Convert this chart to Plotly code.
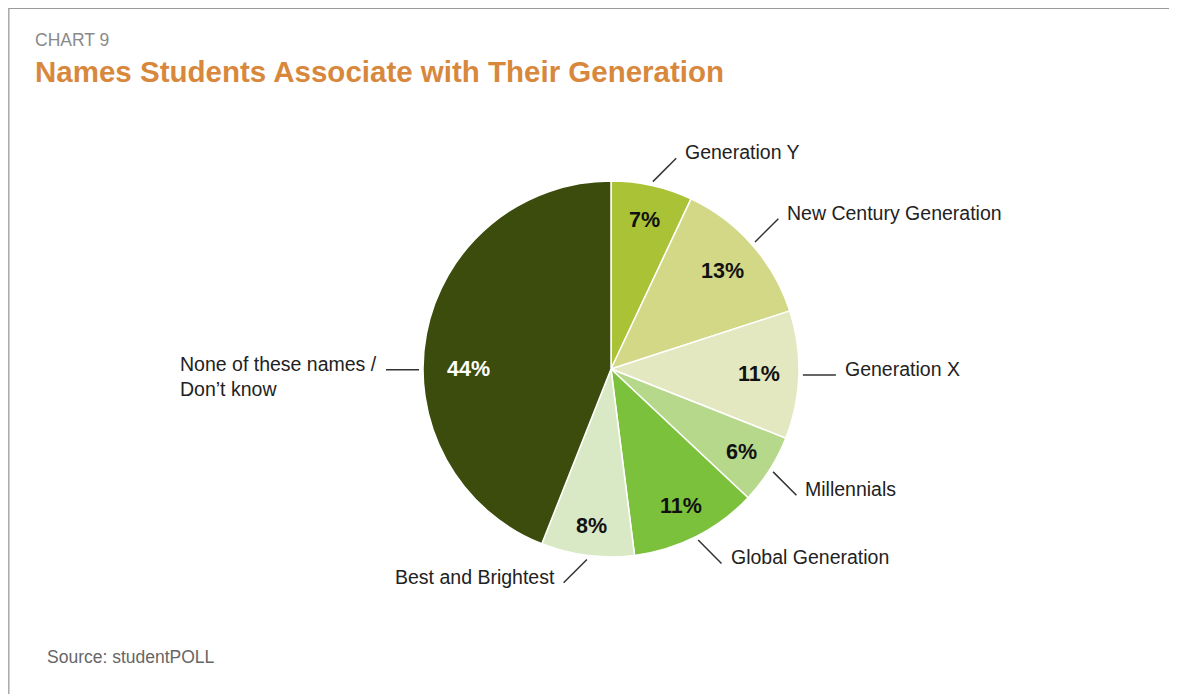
import math
import plotly.graph_objects as go

W, H = 1177, 694
# the page puts the figure 8px in from the top-left corner
OFF = 8

# data
labels = [
    "Generation Y",
    "New Century Generation",
    "Generation X",
    "Millennials",
    "Global Generation",
    "Best and Brightest",
    "None of these names /<br>Don’t know",
]
values = [7, 13, 11, 6, 11, 8, 44]
colors = ["#aac235", "#d3d886", "#e3e8c1", "#b6d88b", "#7bc13c", "#d9e9c5", "#3b4c0c"]

# label styling (not data): leader direction (deg clockwise from top), anchor angle shift
leader_dir = [45, 45, 90, 135, 135, 225, 270]
angle_shift = [0, 0, 0, 0, 0, 0, -11]
pct_r = [0.81, 0.79, 0.79, 0.82, 0.82, 0.84, 0.76]

FONT = "Liberation Sans, Arial"
cx, cy, R = 611, 369, 188


def px(x):
    return (x - OFF) / W


def py(y):
    return 1 - (y - OFF) / H


fig = go.Figure()
fig.add_trace(
    go.Pie(
        labels=labels,
        values=values,
        sort=False,
        direction="clockwise",
        rotation=0,
        marker=dict(colors=colors, line=dict(color="white", width=1.5)),
        textinfo="none",
        hoverinfo="label+percent",
        showlegend=False,
        domain=dict(x=[px(cx - R), px(cx + R)], y=[py(cy + R), py(cy - R)]),
    )
)

annotations = []
shapes = []
total = sum(values)
cum = 0
for i, v in enumerate(values):
    mid = (cum + v / 2) / total * 360 + angle_shift[i]
    cum += v
    a = math.radians(mid)
    # percent label inside the slice
    tx = cx + pct_r[i] * R * math.sin(a)
    ty = cy - pct_r[i] * R * math.cos(a)
    annotations.append(
        dict(
            x=px(tx), y=py(ty), xref="paper", yref="paper", showarrow=False,
            xanchor="center", yanchor="middle",
            text=f"<b>{v}%</b>",
            font=dict(size=21.5, color="white" if i == 6 else "#111111", family=FONT),
        )
    )
    # leader line
    sx = cx + (R + 4) * math.sin(a)
    sy = cy - (R + 4) * math.cos(a)
    d = math.radians(leader_dir[i])
    ex = sx + 33 * math.sin(d)
    ey = sy - 33 * math.cos(d)
    shapes.append(
        dict(type="line", xref="paper", yref="paper",
             x0=px(sx), y0=py(sy), x1=px(ex), y1=py(ey),
             line=dict(color="#333333", width=1.5))
    )
    right = math.sin(d) > 0
    annotations.append(
        dict(
            x=px(ex + (7 if right else -7)), y=py(ey - 19), xref="paper", yref="paper",
            xanchor="left" if right else "right", yanchor="top", align="left",
            showarrow=False, text=labels[i],
            font=dict(size=19.5, color="#222222", family=FONT),
        )
    )

# headings
annotations += [
    dict(x=px(33), y=py(40), xref="paper", yref="paper", xanchor="left", yanchor="middle",
         showarrow=False, text="CHART 9",
         font=dict(size=17.5, color="#8a8a8a", family=FONT)),
    dict(x=px(33), y=py(72), xref="paper", yref="paper", xanchor="left", yanchor="middle",
         showarrow=False, text="<b>Names Students Associate with Their Generation</b>",
         font=dict(size=29.5, color="#d8883c", family=FONT)),
    dict(x=px(45), y=py(657), xref="paper", yref="paper", xanchor="left", yanchor="middle",
         showarrow=False, text="Source: studentPOLL",
         font=dict(size=17.5, color="#666666", family=FONT)),
]

# window frame edges
shapes += [
    dict(type="line", xref="paper", yref="paper", x0=0, x1=1, y0=py(8), y1=py(8),
         line=dict(color="#9a9a9a", width=2)),
    dict(type="line", xref="paper", yref="paper", x0=px(8.8), x1=px(8.8), y0=0, y1=py(8),
         line=dict(color="#a8a8a8", width=1.5)),
]

fig.update_layout(
    width=W, height=H,
    margin=dict(l=0, r=0, t=0, b=0),
    paper_bgcolor="white",
    plot_bgcolor="white",
    annotations=annotations,
    shapes=shapes,
)

fig.write_html("out.html")
